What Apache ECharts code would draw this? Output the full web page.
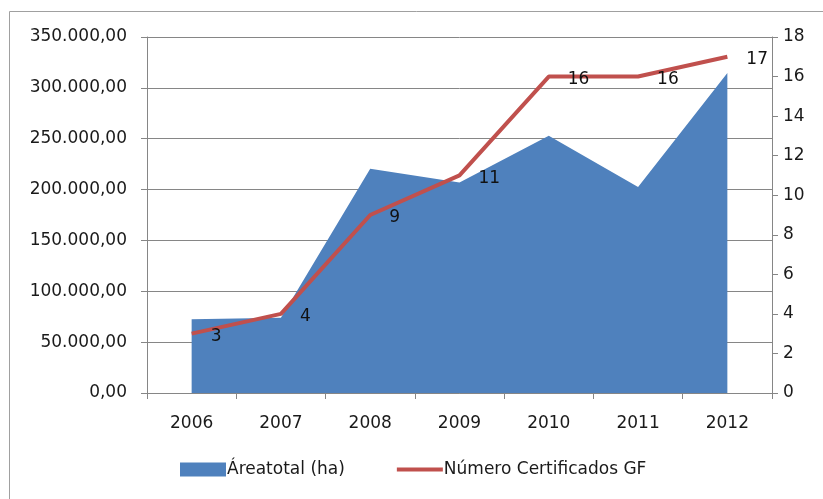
<!DOCTYPE html>
<html>
<head>
<meta charset="utf-8">
<script src="https://cdn.jsdelivr.net/npm/echarts@6/dist/echarts.min.js"></script>
<style>
  html, body { margin: 0; padding: 0; background: #fff; }
  #chart { width: 823px; height: 499px; }
</style>
</head>
<body>
<div id="chart"></div>
<script>
// anos
const years = ['2006', '2007', '2008', '2009', '2010', '2011', '2012']
// área total (ha) - eixo esquerdo
const areaTotal = [72500, 74000, 220500, 207000, 253000, 202500, 314500]
// número de certificados - eixo direito
const certificados = [3, 4, 9, 11, 16, 16, 17]

const font = 'DejaVu Sans'
const axisGray = '#868686'
const txt = '#1a1a1a'

function fmtBR(v) {
  // 350000 -> 350.000,00
  const s = String(Math.round(v)).replace(/\B(?=(\d{3})+(?!\d))/g, '.')
  return s + ',00'
}

const chart = echarts.init(document.getElementById('chart'), null, { renderer: 'canvas' })

chart.setOption({
  animation: false,
  textStyle: { fontFamily: font },
  graphic: [{
    type: 'polyline',
    shape: { points: [[9.5, 499], [9.5, 11.5], [823, 11.5]] },
    style: { stroke: '#a0a0a0', lineWidth: 1, fill: null }
  }],
  grid: {
    left: 147,
    right: 51,
    top: 37,
    bottom: 106
  },
  legend: {
    left: 175,
    top: 456,
    itemWidth: 46,
    itemHeight: 14,
    itemGap: 52,
    textStyle: { fontFamily: font, fontSize: 17, color: txt, padding: [0, 0, 0, -4] },
    data: [
      { name: 'Áreatotal (ha)', icon: 'rect' },
      { name: 'Número Certificados GF', icon: 'path://M0,0 L46,0 L46,4 L0,4 Z' }
    ]
  },
  xAxis: {
    type: 'category',
    data: years,
    boundaryGap: true,
    axisLine: { lineStyle: { color: axisGray } },
    axisTick: { show: true, length: 6, lineStyle: { color: axisGray } },
    axisLabel: { fontFamily: font, fontSize: 17, color: txt, margin: 22 }
  },
  yAxis: [{
    type: 'value',
    min: 0,
    max: 350000,
    interval: 50000,
    axisLine: { show: true, lineStyle: { color: axisGray } },
    axisTick: { show: true, length: 6, lineStyle: { color: axisGray } },
    splitLine: { show: true, lineStyle: { color: axisGray, width: 1 } },
    axisLabel: {
      fontFamily: font, fontSize: 17, color: txt, margin: 20,
      formatter: fmtBR
    }
  }, {
    type: 'value',
    min: 0,
    max: 18,
    interval: 2,
    position: 'right',
    axisLine: { show: true, lineStyle: { color: axisGray } },
    axisTick: { show: true, length: 6, lineStyle: { color: axisGray } },
    splitLine: { show: false },
    axisLabel: { fontFamily: font, fontSize: 17, color: txt, margin: 11 }
  }],
  series: [{
    name: 'Áreatotal (ha)',
    type: 'line',
    data: areaTotal,
    yAxisIndex: 0,
    symbol: 'none',
    itemStyle: { color: '#4F81BD' },
    lineStyle: { width: 0, color: '#4F81BD' },
    areaStyle: { color: '#4F81BD', opacity: 1 },
    z: 2
  }, {
    name: 'Número Certificados GF',
    type: 'line',
    data: certificados,
    yAxisIndex: 1,
    symbol: 'circle',
    symbolSize: 0,
    showSymbol: true,
    itemStyle: { color: '#C0504D' },
    lineStyle: { width: 4, color: '#C0504D' },
    label: {
      show: true,
      position: 'right',
      distance: 19,
      offset: [0, 3],
      fontFamily: font,
      fontSize: 17,
      color: '#111'
    },
    z: 3
  }]
})
</script>
</body>
</html>
